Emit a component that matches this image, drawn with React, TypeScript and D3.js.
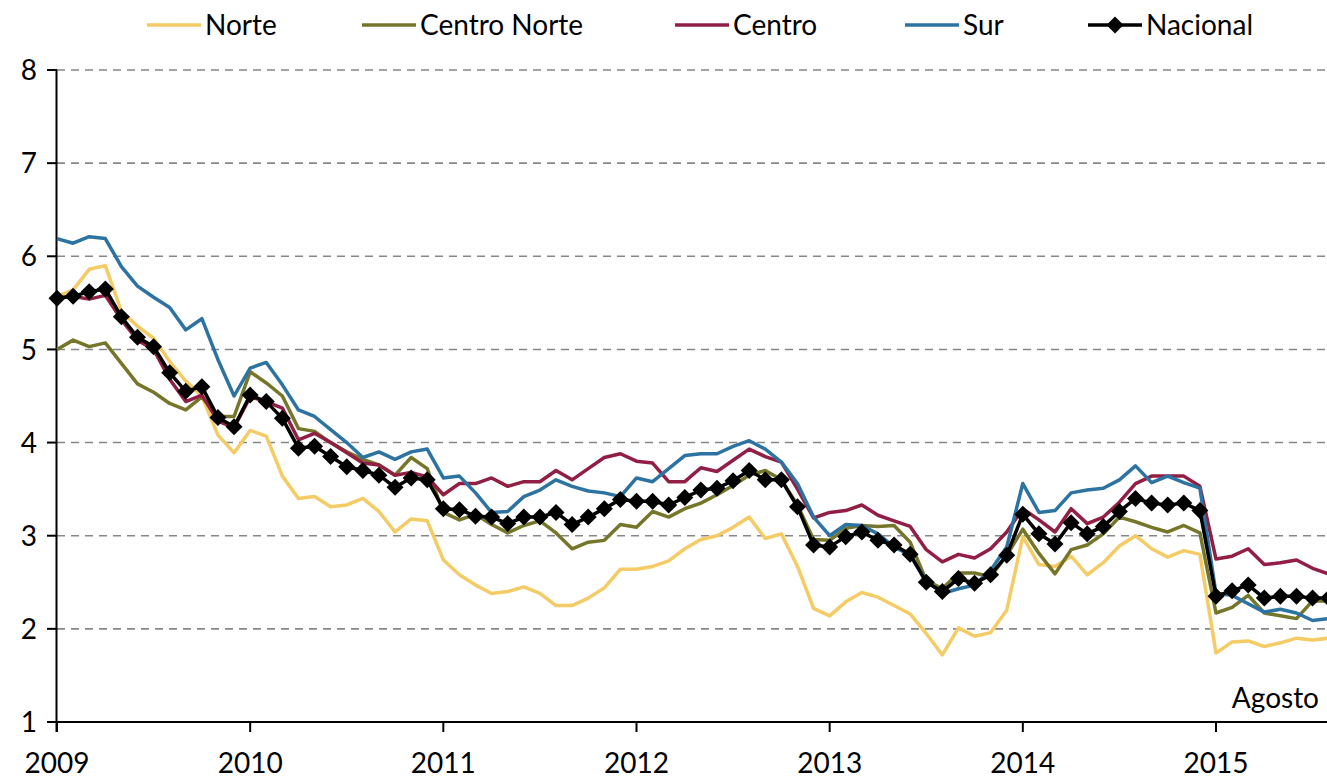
import React from "react";
import * as d3 from "d3";

const W = 1327;
const H = 778;

const yearLabels = ["2009", "2010", "2011", "2012", "2013", "2014", "2015"];
const yTicks = [1, 2, 3, 4, 5, 6, 7, 8];

// Monthly values, Jan 2009 – Aug 2015 (80 months)
const norte = [
  5.57, 5.64, 5.86, 5.9, 5.41, 5.25, 5.12, 4.87, 4.66, 4.5, 4.08, 3.89,
  4.13, 4.07, 3.64, 3.4, 3.42, 3.31, 3.33, 3.4, 3.26, 3.04, 3.18, 3.16,
  2.74, 2.58, 2.47, 2.38, 2.4, 2.45, 2.38, 2.25, 2.25, 2.33, 2.44, 2.64,
  2.64, 2.67, 2.73, 2.86, 2.96, 3.0, 3.09, 3.2, 2.97, 3.02, 2.67, 2.22,
  2.14, 2.29, 2.39, 2.34, 2.25, 2.16, 1.95, 1.72, 2.01, 1.92, 1.96, 2.2,
  2.99, 2.69, 2.67, 2.78, 2.58, 2.71, 2.89, 3.0, 2.86, 2.77, 2.84, 2.8,
  1.74, 1.86, 1.87, 1.81, 1.85, 1.9, 1.88, 1.9,
];
const centroNorte = [
  5.0, 5.1, 5.03, 5.07, 4.85, 4.63, 4.54, 4.42, 4.35, 4.49, 4.28, 4.28,
  4.76, 4.64, 4.5, 4.15, 4.12, 4.0, 3.9, 3.82, 3.76, 3.65, 3.84, 3.72,
  3.25, 3.17, 3.23, 3.12, 3.03, 3.11, 3.16, 3.03, 2.86, 2.93, 2.95, 3.12,
  3.09, 3.26, 3.2, 3.29, 3.35, 3.44, 3.54, 3.65, 3.7, 3.6, 3.33, 2.96,
  2.95, 3.08, 3.11, 3.1, 3.11, 2.93, 2.52, 2.43, 2.6, 2.6, 2.56, 2.79,
  3.07, 2.81, 2.59, 2.85, 2.9, 3.02, 3.2, 3.15, 3.09, 3.04, 3.11, 3.03,
  2.17, 2.23, 2.36, 2.17, 2.14, 2.11, 2.3, 2.3,
];
const centro = [
  5.55, 5.57, 5.54, 5.58, 5.32, 5.1, 5.0, 4.68, 4.44, 4.51, 4.23, 4.16,
  4.49, 4.44, 4.37, 4.03, 4.1, 4.0, 3.89, 3.78, 3.76, 3.65, 3.68, 3.63,
  3.44, 3.56, 3.56, 3.62, 3.53, 3.58, 3.58, 3.7, 3.6, 3.72, 3.84, 3.88,
  3.8, 3.78, 3.58, 3.58, 3.73, 3.69, 3.81, 3.93, 3.85, 3.79, 3.5, 3.19,
  3.25, 3.27, 3.33, 3.22, 3.16, 3.1, 2.85, 2.72, 2.8, 2.76, 2.86, 3.04,
  3.29, 3.17, 3.04, 3.29, 3.13, 3.2, 3.36, 3.56, 3.64, 3.64, 3.64, 3.53,
  2.75, 2.78, 2.86, 2.69, 2.71, 2.74, 2.65, 2.59,
];
const sur = [
  6.19, 6.14, 6.21, 6.19, 5.89, 5.68, 5.56, 5.45, 5.21, 5.33, 4.89, 4.5,
  4.8, 4.86, 4.62, 4.35, 4.28, 4.14, 4.0, 3.84, 3.9, 3.82, 3.9, 3.93,
  3.62, 3.64, 3.46, 3.25, 3.26, 3.42, 3.49, 3.6, 3.53, 3.48, 3.46, 3.42,
  3.62, 3.58, 3.72, 3.86, 3.88, 3.88, 3.96, 4.02, 3.93, 3.79, 3.56, 3.2,
  3.0, 3.12, 3.11, 3.02, 2.88, 2.79, 2.52, 2.38, 2.43, 2.47, 2.63, 2.88,
  3.56, 3.25, 3.27, 3.46, 3.49, 3.51, 3.6, 3.75, 3.57, 3.64, 3.57, 3.51,
  2.38, 2.36, 2.27, 2.18, 2.21, 2.17, 2.09, 2.11,
];
const nacional = [
  5.55, 5.57, 5.62, 5.65, 5.35, 5.13, 5.03, 4.75, 4.55, 4.6, 4.27, 4.17,
  4.51, 4.44, 4.26, 3.94, 3.96, 3.85, 3.74, 3.7, 3.65, 3.52, 3.62, 3.6,
  3.29, 3.28, 3.21, 3.2, 3.13, 3.2, 3.2, 3.25, 3.12, 3.2, 3.29, 3.39,
  3.37, 3.37, 3.33, 3.41, 3.49, 3.51, 3.59, 3.7, 3.6, 3.6, 3.31, 2.9,
  2.88, 2.99, 3.04, 2.95, 2.9, 2.8, 2.5, 2.4, 2.54, 2.49, 2.58, 2.79,
  3.23, 3.02, 2.91, 3.14, 3.02, 3.1, 3.26, 3.4, 3.35, 3.33, 3.35, 3.27,
  2.35, 2.41, 2.47, 2.33, 2.35, 2.35, 2.33, 2.33,
];

const seriesNames = ["Norte", "Centro Norte", "Centro", "Sur", "Nacional"];
const seriesData = [norte, centroNorte, centro, sur, nacional];
const seriesColors = ["#F4CB65", "#76762A", "#921F43", "#2C73A2", "#000000"];
const legendX = [147, 362, 675, 905, 1088];

const FONT = "Lato, 'Open Sans', sans-serif";

export default function App() {
  const x0 = 57;
  const step = (1216 - 57) / 72;
  const x = d3.scaleLinear().domain([0, 79]).range([x0, x0 + 79 * step]);
  const y = d3.scaleLinear().domain([1, 8]).range([722, 70]);
  const line = d3
    .line<number>()
    .x((_, i) => x(i))
    .y((d) => y(d));
  const diamond = (cx: number, cy: number, r: number) =>
    `M${cx},${cy - r}L${cx + r},${cy}L${cx},${cy + r}L${cx - r},${cy}Z`;

  return (
    <div style={{ position: "absolute", left: 0, top: 0, width: W, height: H, background: "#fff" }}>
      <svg width={W} height={H} style={{ display: "block" }} fontFamily={FONT}>
        {/* grid lines */}
        {yTicks.filter((t) => t > 1).map((t) => (
          <line
            key={"g" + t}
            x1={x0}
            x2={W}
            y1={y(t)}
            y2={y(t)}
            stroke="#878787"
            strokeWidth={1.6}
            strokeDasharray="8,6"
          />
        ))}
        {/* y axis */}
        <line x1={x0 - 0.5} x2={x0 - 0.5} y1={y(8)} y2={732} stroke="#000" strokeWidth={2} />
        {yTicks.map((t) => (
          <g key={"yt" + t}>
            <line x1={47} x2={x0} y1={y(t)} y2={y(t)} stroke="#000" strokeWidth={2} />
            <text x={37} y={y(t)} dy="0.36em" textAnchor="end" fontSize={28} fill="#000">
              {t}
            </text>
          </g>
        ))}
        {/* x axis */}
        <line x1={x0 - 1} x2={W} y1={722} y2={722} stroke="#000" strokeWidth={2} />
        {yearLabels.map((lab, k) => (
          <g key={lab}>
            <line x1={x(k * 12)} x2={x(k * 12)} y1={722} y2={732} stroke="#000" strokeWidth={2} />
            <text x={x(k * 12)} y={773} textAnchor="middle" fontSize={28} fill="#000">
              {lab}
            </text>
          </g>
        ))}
        {/* series */}
        {seriesData.map((s, k) => (
          <path
            key={seriesNames[k]}
            d={line(s) || ""}
            fill="none"
            stroke={seriesColors[k]}
            strokeWidth={3.5}
            strokeLinejoin="round"
          />
        ))}
        {nacional.map((v, i) => (
          <path key={"m" + i} d={diamond(x(i), y(v), 8.5)} fill="#000" />
        ))}
        {/* annotation */}
        <text x={1319} y={708} textAnchor="end" fontSize={28} fill="#000">
          Agosto
        </text>
        {/* legend */}
        {seriesNames.map((n, k) => (
          <g key={"lg" + n}>
            <line
              x1={legendX[k]}
              x2={legendX[k] + 54}
              y1={25}
              y2={25}
              stroke={seriesColors[k]}
              strokeWidth={3.5}
            />
            {k === 4 && <path d={diamond(legendX[k] + 27, 25, 8.5)} fill="#000" />}
            <text x={legendX[k] + 58} y={25} dy="0.36em" fontSize={28} fill="#000">
              {n}
            </text>
          </g>
        ))}
      </svg>
    </div>
  );
}
